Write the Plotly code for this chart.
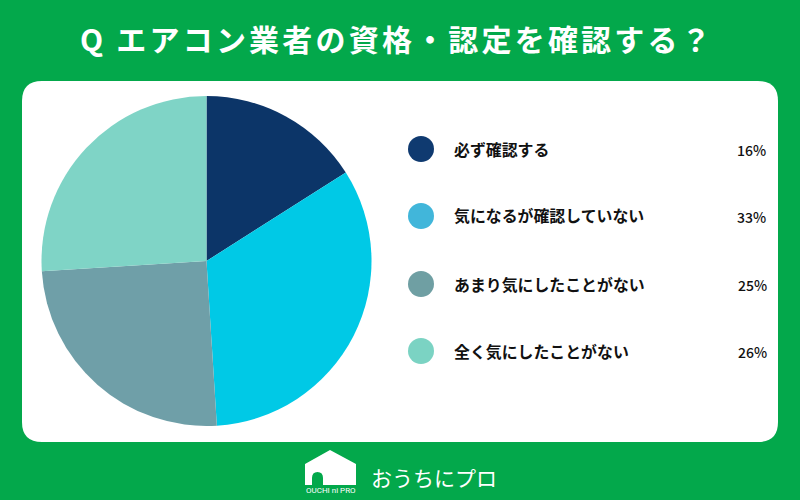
import plotly.graph_objects as go

categories = ["必ず確認する", "気になるが確認していない", "あまり気にしたことがない", "全く気にしたことがない"]
values = [16, 33, 25, 26]
value_labels = ["16%", "33%", "25%", "26%"]
slice_colors = ["#0C3568", "#00C9E6", "#6F9FA8", "#7FD4C6"]
legend_colors = ["#0F3A70", "#41B6DA", "#6F9FA3", "#7BD3C3"]
legend_y = [149, 216, 284, 351]
label_right = [768, 768, 769, 769]
title = "Q エアコン業者の資格・認定を確認する？"
GREEN = "#03A84B"
FONT = "Noto Sans CJK JP"
W, H = 800, 500
cx, cy, r = 206.5, 261, 165


def px(x):
    return x / W


def py(y):
    return 1 - y / H


fig = go.Figure()
fig.add_trace(go.Pie(
    values=values, labels=categories, sort=False, direction="clockwise", rotation=0,
    marker=dict(colors=slice_colors, line=dict(width=0)), textinfo="none", hoverinfo="label+percent",
    showlegend=False,
    domain=dict(x=[px(cx - r), px(cx + r)], y=[py(cy + r), py(cy - r)]),
))

shapes = [dict(
    type="path", xref="paper", yref="paper", layer="below", line=dict(width=0), fillcolor="white",
    path=(f"M {px(42)} {py(81)} L {px(758)} {py(81)} Q {px(778)} {py(81)} {px(778)} {py(101)} "
          f"L {px(778)} {py(422)} Q {px(778)} {py(442)} {px(758)} {py(442)} "
          f"L {px(42)} {py(442)} Q {px(22)} {py(442)} {px(22)} {py(422)} "
          f"L {px(22)} {py(101)} Q {px(22)} {py(81)} {px(42)} {py(81)} Z"),
)]
for color, y in zip(legend_colors, legend_y):
    shapes.append(dict(type="circle", xref="paper", yref="paper", line=dict(width=0), fillcolor=color,
                       x0=px(408), x1=px(434), y0=py(y + 13), y1=py(y - 13)))

# logo
shapes.append(dict(
    type="path", xref="paper", yref="paper", line=dict(width=0), fillcolor="white",
    path=(f"M {px(305)} {py(464)} L {px(330)} {py(450)} L {px(356)} {py(464)} L {px(356)} {py(485)} "
          f"L {px(323)} {py(485)} L {px(323)} {py(478)} Q {px(323)} {py(472)} {px(317.5)} {py(472)} "
          f"Q {px(312)} {py(472)} {px(312)} {py(478)} L {px(312)} {py(485)} L {px(305)} {py(485)} Z"),
))

annotations = [dict(
    text=f"<b>{title}</b>", x=px(397), y=py(38), xref="paper", yref="paper", showarrow=False,
    font=dict(family=FONT, size=30, color="white"), xanchor="center", yanchor="middle",
)]
for cat, lab, y, rx in zip(categories, value_labels, legend_y, label_right):
    annotations.append(dict(text=f"<b>{cat}</b>", x=px(452), y=py(y), xref="paper", yref="paper",
                            showarrow=False, xanchor="left", yanchor="middle",
                            font=dict(family=FONT, size=15.9, color="#111111")))
    annotations.append(dict(text=lab, x=px(rx), y=py(y + 1), xref="paper", yref="paper",
                            showarrow=False, xanchor="right", yanchor="middle",
                            font=dict(family=FONT, size=14, weight=500, color="#111111")))
annotations.append(dict(text="OUCHI ni PRO", x=px(330.5), y=py(490), xref="paper", yref="paper", showarrow=False,
                        font=dict(family="Roboto", size=8, color="white"), xanchor="center", yanchor="middle"))
annotations.append(dict(text="おうちにプロ", x=px(369), y=py(477), xref="paper", yref="paper", showarrow=False,
                        font=dict(family=FONT, size=21, weight=400, color="white"), xanchor="left", yanchor="middle"))

fig.update_layout(width=W, height=H, margin=dict(l=0, r=0, t=0, b=0), paper_bgcolor=GREEN, plot_bgcolor=GREEN,
                  shapes=shapes, annotations=annotations)

post = """
document.body.style.margin = '0';
document.documentElement.style.background = '#03A84B';
document.querySelectorAll('.annotation-text').forEach(function (t) {
  if (t.textContent.indexOf('エアコン') >= 0) { t.style.letterSpacing = '3.2px'; }
});
"""
fig.write_html("out.html", config={"displayModeBar": False}, post_script=post)
